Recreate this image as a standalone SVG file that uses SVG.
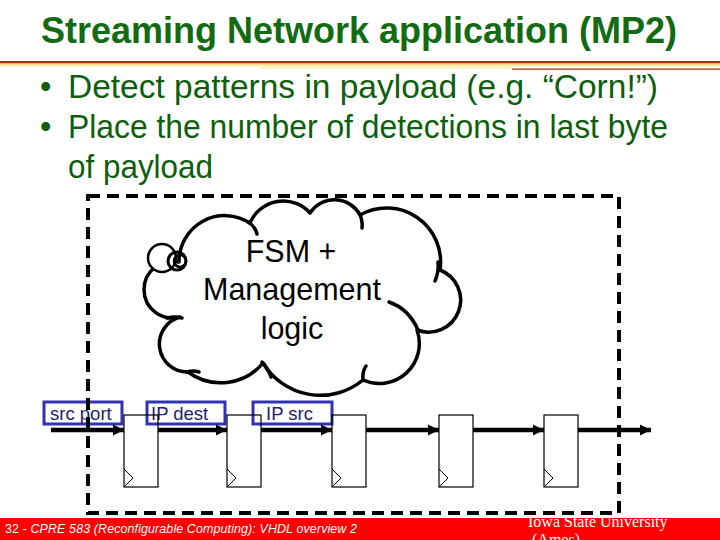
<svg xmlns="http://www.w3.org/2000/svg" width="720" height="540" viewBox="0 0 720 540">
<defs>
<style>
.title{font-family:"Liberation Sans",Arial,sans-serif;font-weight:bold;font-size:36px;fill:#126a12}
.body{font-family:"Liberation Sans",Arial,sans-serif;font-size:32.5px;fill:#0d5e0d}
.cloudtxt{font-family:"Liberation Sans",Arial,sans-serif;font-size:30.5px;fill:#000;text-anchor:middle}
.lbl{font-family:"Liberation Sans",Arial,sans-serif;font-size:18.5px;fill:#22226e}
.lblbox{fill:#fff;stroke:#3232b4;stroke-width:3}
.reg{fill:none;stroke:#000;stroke-width:1.2}
.clk{fill:none;stroke:#000;stroke-width:1}
.cloud{fill:#fff;stroke:#000;stroke-width:3.5;stroke-linejoin:round}
.hook{fill:none;stroke:#000;stroke-width:3.5;stroke-linecap:round}
</style>
<marker id="ah" markerUnits="userSpaceOnUse" markerWidth="12" markerHeight="12" refX="11" refY="6" orient="auto">
<path d="M0,0.5 L11,6 L0,11.5 z" fill="#000"/>
</marker>
<linearGradient id="yel" x1="0" y1="0" x2="0" y2="1">
<stop offset="0" stop-color="#f6d25a"/>
<stop offset="1" stop-color="#fffbe8"/>
</linearGradient>
</defs>

<rect width="720" height="540" fill="#fff"/>

<g id="title">
<text class="title" x="359" y="43" text-anchor="middle">Streaming Network application (MP2)</text>
<rect x="0" y="61" width="720" height="2.5" fill="#a4300e"/>
<rect x="0" y="63.5" width="720" height="3.5" fill="url(#yel)"/>
<rect x="260" y="67" width="252" height="1.5" fill="#f8ecb0"/>
<rect x="512" y="68.5" width="208" height="1.3" fill="#a4401e"/>
</g>

<g id="bullets">
<text class="body" x="40" y="98">•</text>
<text class="body" x="68" y="98" textLength="590" lengthAdjust="spacingAndGlyphs">Detect patterns in payload (e.g. “Corn!”)</text>
<text class="body" x="40" y="138">•</text>
<text class="body" x="68" y="138" textLength="600" lengthAdjust="spacingAndGlyphs">Place the number of detections in last byte</text>
<text class="body" x="68" y="178" textLength="145" lengthAdjust="spacingAndGlyphs">of payload</text>
</g>

<g id="cloud">
<path class="cloud" d="M179,262 A46,46 0 0 1 250,223 A36,36 0 0 1 310,213 A29,29 0 0 1 360,215 A54,54 0 0 1 440,270 A32,32 0 0 1 417,330 A40,40 0 0 1 363,380 A67,67 0 0 1 263,363 A55,55 0 0 1 188,372 A28,28 0 0 1 180,317 A28.4,28.4 0 1 1 179,262 Z"/>
<path class="hook" d="M248,222 Q255,226 257,234"/>
<path class="hook" d="M359,213 Q363,220 362,228"/>
<path class="hook" d="M438,262 Q439,272 435,281"/>
<path class="hook" d="M389,302 Q409,309 418,330"/>
<path class="hook" d="M363,380 Q362,372 366,366"/>
<path class="hook" d="M262,362 Q268,368 271,377"/>
<path class="hook" d="M187,372 Q193,370 199,372"/>
<path class="hook" d="M167,318 Q175,316 182,318"/>
<circle cx="162" cy="258" r="14" fill="#fff" stroke="#000" stroke-width="2.5"/>
<circle cx="177" cy="261" r="9" fill="none" stroke="#000" stroke-width="3"/>
<circle cx="180" cy="261" r="6" fill="none" stroke="#000" stroke-width="2.5"/>
<text class="cloudtxt" x="291" y="262">FSM +</text>
<text class="cloudtxt" x="292" y="300">Management</text>
<text class="cloudtxt" x="292" y="339">logic</text>
</g>

<g id="labels">
<rect class="lblbox" x="44" y="402" width="78" height="22"/>
<text class="lbl" x="50" y="420">src port</text>
<rect class="lblbox" x="147" y="402" width="78" height="22"/>
<text class="lbl" x="151" y="420">IP dest</text>
<rect class="lblbox" x="253" y="402" width="79" height="22"/>
<text class="lbl" x="266" y="420">IP src</text>
</g>

<g id="reg1"><rect class="reg" x="124" y="415" width="34" height="72"/><polyline class="clk" points="124,469 133,478 124,487"/></g>
<g id="reg2"><rect class="reg" x="227" y="415" width="34" height="72"/><polyline class="clk" points="227,469 236,478 227,487"/></g>
<g id="reg3"><rect class="reg" x="332" y="415" width="34" height="72"/><polyline class="clk" points="332,469 341,478 332,487"/></g>
<g id="reg4"><rect class="reg" x="439" y="415" width="34" height="72"/><polyline class="clk" points="439,469 448,478 439,487"/></g>
<g id="reg5"><rect class="reg" x="544" y="415" width="34" height="72"/><polyline class="clk" points="544,469 553,478 544,487"/></g>

<g id="connectors" stroke="#000" stroke-width="4.5" fill="none">
<line x1="51" y1="430" x2="124" y2="430" marker-end="url(#ah)"/>
<line x1="158" y1="430" x2="227" y2="430" marker-end="url(#ah)"/>
<line x1="261" y1="430" x2="332" y2="430" marker-end="url(#ah)"/>
<line x1="366" y1="430" x2="439" y2="430" marker-end="url(#ah)"/>
<line x1="473" y1="430" x2="544" y2="430" marker-end="url(#ah)"/>
<line x1="578" y1="430" x2="651" y2="430" marker-end="url(#ah)"/>
</g>

<g id="boundary">
<rect x="88" y="196" width="531" height="317" fill="none" stroke="#000" stroke-width="4" stroke-dasharray="12,7"/>
</g>

<g id="footer">
<rect x="0" y="518" width="720" height="22" fill="#ff0000"/>
<text x="5" y="533" font-family="'Liberation Sans',Arial,sans-serif" font-size="12.5" fill="#fff" textLength="352" lengthAdjust="spacing">32 - <tspan font-style="italic">CPRE 583 (Reconfigurable Computing):  VHDL overview 2</tspan></text>
<text x="528" y="527" font-family="'Liberation Serif','Times New Roman',serif" font-size="16" fill="#fff">Iowa State University</text>
<text x="532" y="545" font-family="'Liberation Serif','Times New Roman',serif" font-size="16" fill="#fff">(Ames)</text>
</g>
</svg>
